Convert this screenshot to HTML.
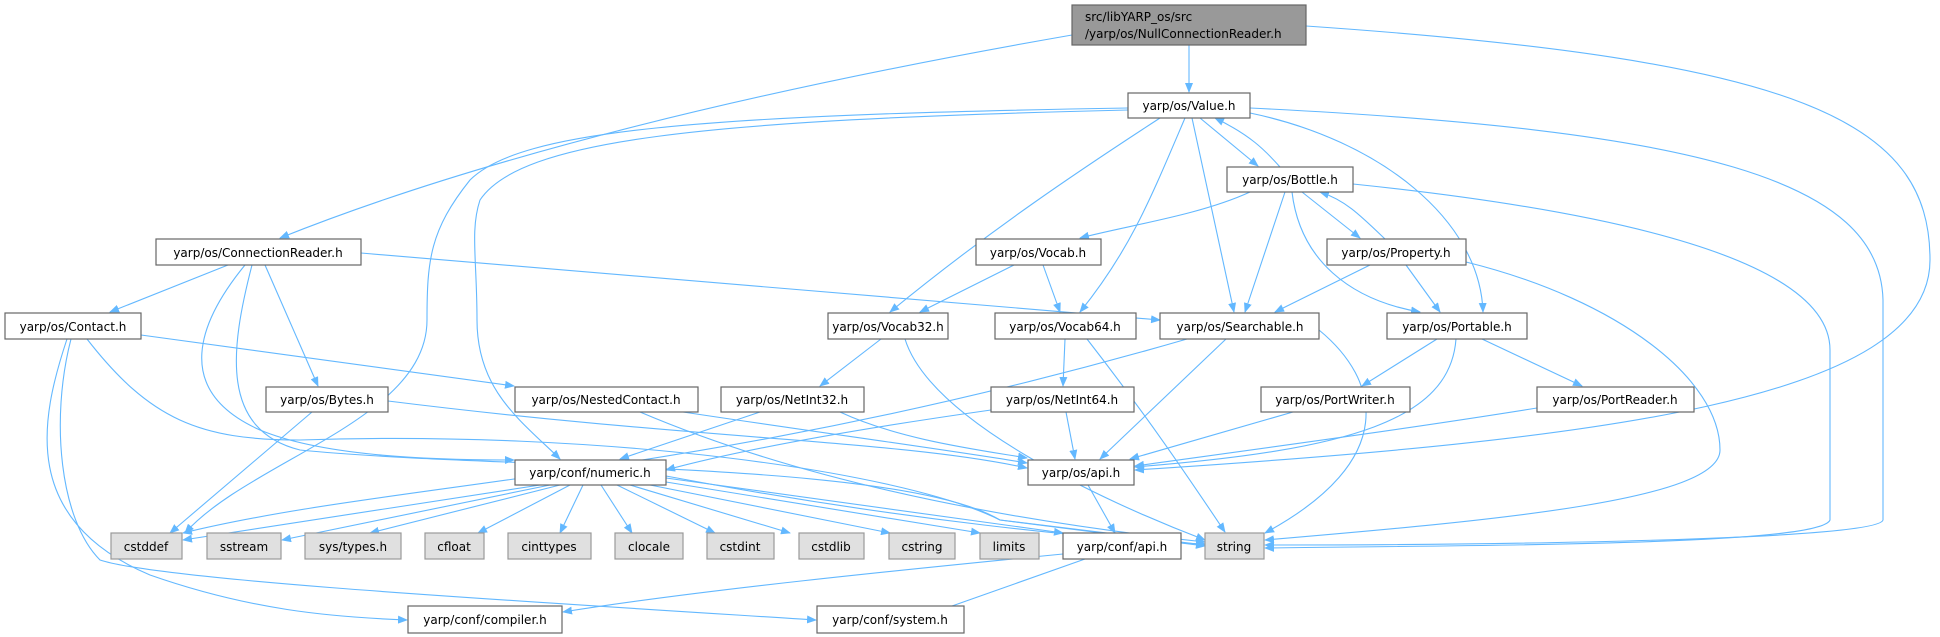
<!DOCTYPE html>
<html><head><meta charset="utf-8"><style>
html,body{margin:0;padding:0;background:#fff;}
svg{display:block}
text{font-family:"DejaVu Sans","Liberation Sans",sans-serif;font-size:12px;fill:#000;text-anchor:middle}
.n{fill:#fff;stroke:#666;stroke-width:1.2}
.l{fill:#e0e0e0;stroke:#999;stroke-width:1.2}
.e{fill:none;stroke:#63b8ff;stroke-width:1.1;marker-end:url(#a)}
</style></head><body>
<svg width="1940" height="637" viewBox="0 0 1940 637">
<defs><marker id="a" markerWidth="10" markerHeight="8" refX="9" refY="4" orient="auto" markerUnits="userSpaceOnUse"><path d="M0,0 L10,4 L0,8 z" fill="#63b8ff"/></marker></defs>
<g>
<path class="e" d="M1189,45 L1189,92"/>
<path class="e" d="M1072,35 C700,100 450,170 280,238"/>
<path class="e" d="M1306,26 C1800,60 1930,120 1930,260 C1930,400 1600,440 1135,470"/>
<path class="e" d="M1200,118 L1258,166"/>
<path class="e" d="M1280,167 C1265,150 1250,135 1215,118"/>
<path class="e" d="M1160,118 C1080,170 990,230 890,312"/>
<path class="e" d="M1185,118 C1150,200 1130,250 1080,312"/>
<path class="e" d="M1192,118 L1234,312"/>
<path class="e" d="M1250,113 C1380,140 1480,220 1483,312"/>
<path class="e" d="M1250,108 C1700,130 1880,180 1883,300 L1883,520 C1878,540 1500,545 1265,545"/>
<path class="e" d="M1128,110 C700,120 520,140 480,200 C470,230 477,260 477,320 C477,390 520,420 560,459"/>
<path class="e" d="M1128,108 C700,115 520,130 470,180 C430,230 427,260 427,320 C427,420 250,460 185,533"/>
<path class="e" d="M1250,192 C1200,215 1130,225 1080,238"/>
<path class="e" d="M1302,192 L1360,238"/>
<path class="e" d="M1385,239 C1360,215 1345,200 1320,192"/>
<path class="e" d="M1285,192 L1245,312"/>
<path class="e" d="M1292,192 C1300,260 1350,300 1420,312"/>
<path class="e" d="M1353,184 C1700,220 1830,280 1830,350 L1830,520 C1820,545 1500,545 1265,548"/>
<path class="e" d="M1014,265 L920,312"/>
<path class="e" d="M1043,265 L1060,312"/>
<path class="e" d="M1370,265 L1275,312"/>
<path class="e" d="M1406,265 L1440,312"/>
<path class="e" d="M1466,262 C1620,300 1720,380 1720,450 C1720,500 1500,520 1265,540"/>
<path class="e" d="M228,265 L110,312"/>
<path class="e" d="M265,265 L318,386"/>
<path class="e" d="M361,253 L1160,320"/>
<path class="e" d="M245,265 C200,320 170,390 260,430 C320,455 420,460 514,460"/>
<path class="e" d="M252,265 C230,350 220,430 300,450 C500,470 900,460 1000,520 L1205,545"/>
<path class="e" d="M141,335 L514,386"/>
<path class="e" d="M67,339 C40,420 20,520 150,575 C250,610 330,617 407,620"/>
<path class="e" d="M71,339 C50,420 60,520 100,560 C160,580 500,600 816,620"/>
<path class="e" d="M87,339 C150,420 200,440 300,440 C600,430 900,470 1000,520 L1205,546"/>
<path class="e" d="M881,339 L820,386"/>
<path class="e" d="M905,339 C930,420 1100,500 1205,540"/>
<path class="e" d="M1065,339 L1063,386"/>
<path class="e" d="M1087,339 C1150,420 1190,480 1225,532"/>
<path class="e" d="M1187,339 C700,480 400,480 183,533"/>
<path class="e" d="M1226,339 L1100,459"/>
<path class="e" d="M1319,330 C1380,380 1400,460 1265,533"/>
<path class="e" d="M1437,339 L1362,386"/>
<path class="e" d="M1482,339 L1582,386"/>
<path class="e" d="M1456,339 C1450,420 1350,450 1135,467"/>
<path class="e" d="M312,412 L170,533"/>
<path class="e" d="M388,401 C700,440 900,440 1027,468"/>
<path class="e" d="M640,412 C800,480 1000,520 1205,542"/>
<path class="e" d="M650,407 C800,430 950,450 1027,463"/>
<path class="e" d="M760,412 L620,459"/>
<path class="e" d="M840,412 C900,440 980,450 1027,458"/>
<path class="e" d="M991,410 C850,430 740,450 666,470"/>
<path class="e" d="M1066,412 L1075,459"/>
<path class="e" d="M1293,412 L1130,459"/>
<path class="e" d="M1537,408 C1400,430 1250,450 1135,466"/>
<path class="e" d="M540,485 L183,540"/>
<path class="e" d="M550,485 L282,540"/>
<path class="e" d="M560,485 L370,533"/>
<path class="e" d="M570,485 L478,533"/>
<path class="e" d="M583,485 L560,533"/>
<path class="e" d="M601,485 L632,533"/>
<path class="e" d="M617,485 L715,533"/>
<path class="e" d="M630,485 L790,533"/>
<path class="e" d="M650,485 L890,533"/>
<path class="e" d="M666,482 L980,533"/>
<path class="e" d="M666,478 L1063,533"/>
<path class="e" d="M666,476 C900,520 1100,540 1205,544"/>
<path class="e" d="M1088,485 L1115,533"/>
<path class="e" d="M1063,554 C900,570 700,590 563,612"/>
<path class="e" d="M1085,559 L935,612"/>
</g>
<g>
<rect x="1072" y="5" width="234" height="40" fill="#999" stroke="#666" stroke-width="1.2"/>
<text x="1085" y="21" style="text-anchor:start">src/libYARP_os/src</text>
<text x="1085" y="38" style="text-anchor:start">/yarp/os/NullConnectionReader.h</text>
<rect class="n" x="1128" y="93" width="122" height="25"/><text x="1189" y="110">yarp/os/Value.h</text>
<rect class="n" x="1227" y="167" width="126" height="25"/><text x="1290" y="184">yarp/os/Bottle.h</text>
<rect class="n" x="976" y="239" width="125" height="26"/><text x="1038" y="257">yarp/os/Vocab.h</text>
<rect class="n" x="1327" y="239" width="139" height="26"/><text x="1396" y="257">yarp/os/Property.h</text>
<rect class="n" x="156" y="239" width="205" height="26"/><text x="258" y="257">yarp/os/ConnectionReader.h</text>
<rect class="n" x="5" y="313" width="136" height="26"/><text x="73" y="331">yarp/os/Contact.h</text>
<rect class="n" x="828" y="313" width="120" height="26"/><text x="888" y="331">yarp/os/Vocab32.h</text>
<rect class="n" x="995" y="313" width="141" height="26"/><text x="1065" y="331">yarp/os/Vocab64.h</text>
<rect class="n" x="1160" y="313" width="159" height="26"/><text x="1240" y="331">yarp/os/Searchable.h</text>
<rect class="n" x="1387" y="313" width="140" height="26"/><text x="1457" y="331">yarp/os/Portable.h</text>
<rect class="n" x="266" y="387" width="122" height="25"/><text x="327" y="404">yarp/os/Bytes.h</text>
<rect class="n" x="515" y="387" width="183" height="25"/><text x="606" y="404">yarp/os/NestedContact.h</text>
<rect class="n" x="721" y="387" width="143" height="25"/><text x="792" y="404">yarp/os/NetInt32.h</text>
<rect class="n" x="991" y="387" width="143" height="25"/><text x="1062" y="404">yarp/os/NetInt64.h</text>
<rect class="n" x="1261" y="387" width="149" height="25"/><text x="1335" y="404">yarp/os/PortWriter.h</text>
<rect class="n" x="1537" y="387" width="157" height="25"/><text x="1615" y="404">yarp/os/PortReader.h</text>
<rect class="n" x="515" y="460" width="151" height="25"/><text x="590" y="477">yarp/conf/numeric.h</text>
<rect class="n" x="1028" y="460" width="106" height="25"/><text x="1081" y="477">yarp/os/api.h</text>
<rect class="l" x="111" y="533" width="71" height="26"/><text x="146" y="551">cstddef</text>
<rect class="l" x="207" y="533" width="74" height="26"/><text x="244" y="551">sstream</text>
<rect class="l" x="305" y="533" width="96" height="26"/><text x="353" y="551">sys/types.h</text>
<rect class="l" x="425" y="533" width="59" height="26"/><text x="454" y="551">cfloat</text>
<rect class="l" x="508" y="533" width="83" height="26"/><text x="549" y="551">cinttypes</text>
<rect class="l" x="615" y="533" width="68" height="26"/><text x="649" y="551">clocale</text>
<rect class="l" x="707" y="533" width="67" height="26"/><text x="740" y="551">cstdint</text>
<rect class="l" x="799" y="533" width="65" height="26"/><text x="831" y="551">cstdlib</text>
<rect class="l" x="889" y="533" width="66" height="26"/><text x="922" y="551">cstring</text>
<rect class="l" x="980" y="533" width="59" height="26"/><text x="1009" y="551">limits</text>
<rect class="n" x="1063" y="533" width="118" height="26"/><text x="1122" y="551">yarp/conf/api.h</text>
<rect class="l" x="1205" y="533" width="59" height="26"/><text x="1234" y="551">string</text>
<rect class="n" x="408" y="606" width="154" height="27"/><text x="485" y="624">yarp/conf/compiler.h</text>
<rect class="n" x="817" y="606" width="147" height="27"/><text x="890" y="624">yarp/conf/system.h</text>
</g>
</svg>
</body></html>
